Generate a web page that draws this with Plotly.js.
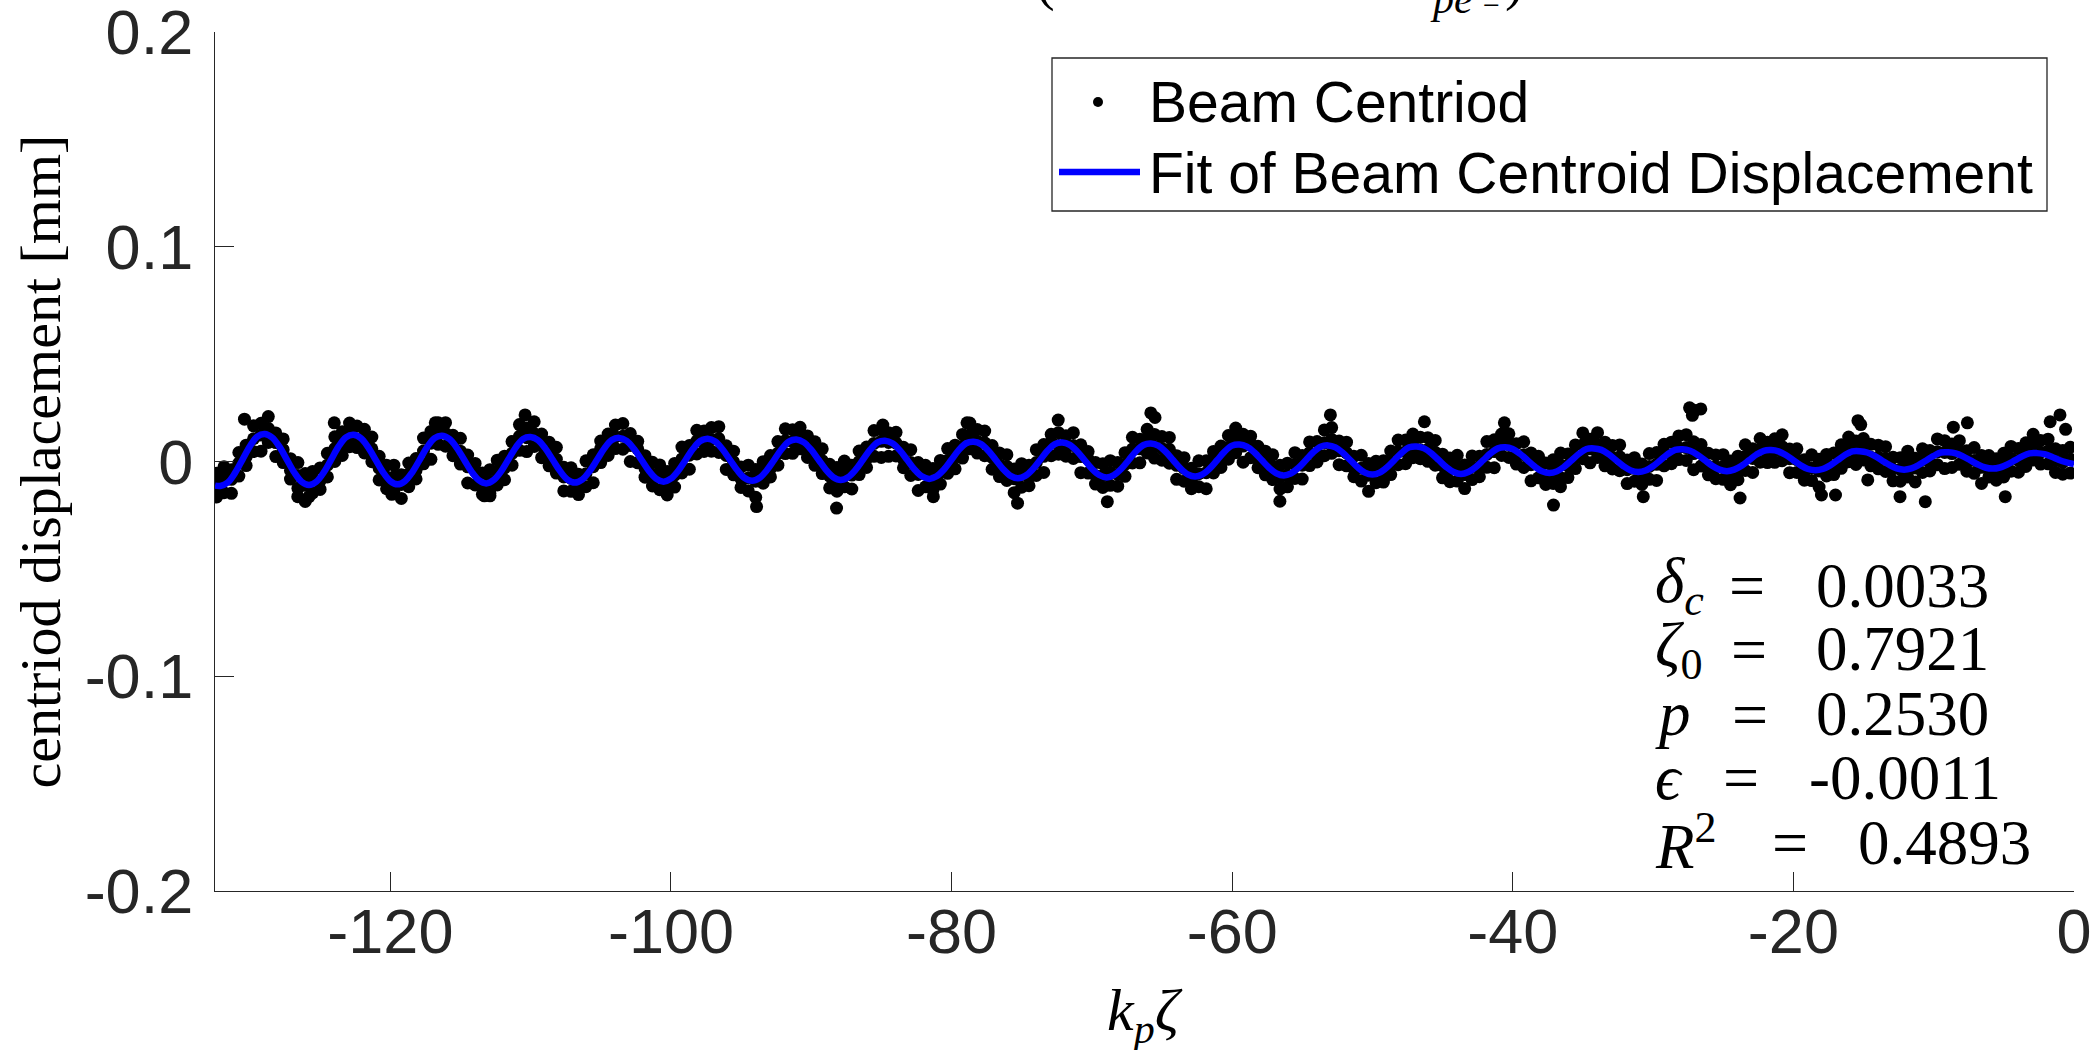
<!DOCTYPE html>
<html>
<head>
<meta charset="utf-8">
<script src="https://cdn.plot.ly/plotly-3.0.1.min.js"></script>
<style>
html,body{margin:0;padding:0;background:#ffffff;}
#chart{width:2095px;height:1050px;}
</style>
</head>
<body>
<div id="chart"></div>
<script>
// ---------- tick labels ----------
const xTickVals = [-120, -100, -80, -60, -40, -20, 0];
const xTickText = ['-120', '-100', '-80', '-60', '-40', '-20', '0'];
const yTickVals = [-0.2, -0.1, 0, 0.1, 0.2];
const yTickText = ['-0.2', '-0.1', '0', '0.1', '0.2'];

// ---------- fitted curve ----------
const fitX = [
-132.50,-132.12,-131.59,-131.07,-130.54,-130.01,-129.49,
-128.96,-128.43,-127.91,-127.38,-126.85,-126.33,-125.80,-125.28,-124.75,-124.22,-123.70,-123.17,
-122.64,-122.11,-121.59,-121.06,-120.53,-120.01,-119.48,-118.96,-118.43,-117.90,-117.38,-116.85,
-116.33,-115.80,-115.28,-114.75,-114.22,-113.70,-113.17,-112.65,-112.12,-111.59,-111.07,-110.54,
-110.01,-109.48,-108.96,-108.43,-107.90,-107.38,-106.85,-106.33,-105.80,-105.27,-104.75,-104.22,
-103.69,-103.16,-102.64,-102.11,-101.58,-101.06,-100.53,-100.01,-99.48,-98.95,-98.43,-97.90,
-97.38,-96.85,-96.33,-95.80,-95.27,-94.75,-94.22,-93.70,-93.17,-92.64,-92.12,-91.59,
-91.06,-90.53,-90.01,-89.48,-88.95,-88.43,-87.90,-87.38,-86.85,-86.32,-85.80,-85.27,
-84.75,-84.22,-83.70,-83.17,-82.64,-82.12,-81.59,-81.07,-80.54,-80.01,-79.49,-78.96,
-78.43,-77.90,-77.38,-76.85,-76.32,-75.80,-75.27,-74.75,-74.22,-73.69,-73.17,-72.64,
-72.11,-71.58,-71.06,-70.53,-70.00,-69.48,-68.95,-68.43,-67.90,-67.37,-66.85,-66.32,
-65.80,-65.27,-64.75,-64.22,-63.69,-63.17,-62.64,-62.12,-61.59,-61.06,-60.54,-60.01,
-59.48,-58.95,-58.43,-57.90,-57.37,-56.85,-56.32,-55.80,-55.27,-54.74,-54.22,-53.69,
-53.17,-52.64,-52.12,-51.59,-51.06,-50.54,-50.01,-49.49,-48.96,-48.43,-47.91,-47.38,
-46.85,-46.32,-45.80,-45.27,-44.74,-44.22,-43.69,-43.17,-42.64,-42.11,-41.59,-41.06,
-40.54,-40.01,-39.49,-38.96,-38.43,-37.91,-37.38,-36.86,-36.33,-35.80,-35.28,-34.75,
-34.22,-33.69,-33.17,-32.64,-32.11,-31.59,-31.06,-30.54,-30.01,-29.48,-28.96,-28.43,
-27.90,-27.37,-26.85,-26.32,-25.79,-25.27,-24.74,-24.22,-23.69,-23.16,-22.64,-22.11,
-21.59,-21.06,-20.54,-20.01,-19.48,-18.96,-18.43,-17.91,-17.38,-16.85,-16.33,-15.80,
-15.27,-14.74,-14.22,-13.69,-13.16,-12.64,-12.11,-11.59,-11.06,-10.53,-10.01,-9.48,
-8.96,-8.43,-7.91,-7.38,-6.85,-6.33,-5.80,-5.28,-4.75,-4.22,-3.70,-3.17,
-2.64,-2.11,-1.59,-1.06,-0.53,0
];
const fitY = [
-.0112,-.0114,-.0098,-.0053,.0009,.0071,.0116,
.0128,.0112,.0069,.0009,-.0051,-.0094,-.0110,-.0094,-.0051,.0009,.0069,.0112,
.0124,.0109,.0067,.0009,-.0049,-.0091,-.0106,-.0091,-.0049,.0009,.0067,.0109,
.0120,.0105,.0065,.0009,-.0047,-.0087,-.0102,-.0087,-.0047,.0009,.0065,.0105,
.0114,.0100,.0061,.0008,-.0045,-.0084,-.0098,-.0084,-.0045,.0008,.0061,.0100,
.0110,.0096,.0059,.0008,-.0043,-.0080,-.0094,-.0080,-.0043,.0008,.0059,.0096,
.0106,.0093,.0057,.0008,-.0041,-.0077,-.0090,-.0077,-.0041,.0008,.0057,.0093,
.0102,.0089,.0055,.0008,-.0039,-.0073,-.0086,-.0073,-.0039,.0008,.0055,.0089,
.0097,.0085,.0053,.0008,-.0037,-.0069,-.0081,-.0069,-.0037,.0008,.0053,.0085,
.0092,.0081,.0050,.0007,-.0036,-.0067,-.0078,-.0067,-.0036,.0007,.0050,.0081,
.0088,.0077,.0048,.0007,-.0034,-.0063,-.0074,-.0063,-.0034,.0007,.0048,.0077,
.0084,.0074,.0046,.0007,-.0032,-.0060,-.0070,-.0060,-.0032,.0007,.0046,.0074,
.0079,.0069,.0043,.0007,-.0029,-.0055,-.0065,-.0055,-.0029,.0007,.0043,.0069,
.0075,.0066,.0041,.0007,-.0027,-.0052,-.0061,-.0052,-.0027,.0007,.0041,.0066,
.0070,.0061,.0038,.0006,-.0026,-.0049,-.0058,-.0049,-.0026,.0006,.0038,.0061,
.0066,.0058,.0036,.0006,-.0024,-.0046,-.0054,-.0046,-.0024,.0006,.0036,.0058,
.0061,.0054,.0034,.0006,-.0022,-.0042,-.0049,-.0042,-.0022,.0006,.0034,.0054,
.0057,.0050,.0032,.0006,-.0020,-.0038,-.0045,-.0038,-.0020,.0006,.0032,.0050,
.0053,.0047,.0030,.0006,-.0018,-.0035,-.0041,-.0035,-.0018,.0006,.0030,.0047,
.0048,.0042,.0026,.0005,-.0016,-.0032,-.0038,-.0032,-.0016,.0005,.0026,.0042,
.0043,.0038,.0024,.0005,-.0014,-.0028,-.0033,-.0028,-.0014,.0005,.0024,.0038,
.0039,.0034,.0022,.0007,-.0004,-.0012
];

// ---------- beam centroid samples ----------
const dotColX = [
-132.38,-131.86,-131.33,-130.80,-130.28,-129.75,-129.22,
-128.70,-128.17,-127.64,-127.12,-126.59,-126.07,-125.54,-125.01,-124.49,-123.96,-123.43,-122.91,
-122.38,-121.85,-121.32,-120.80,-120.27,-119.75,-119.22,-118.69,-118.17,-117.64,-117.11,-116.59,
-116.07,-115.54,-115.01,-114.49,-113.96,-113.44,-112.91,-112.38,-111.86,-111.33,-110.80,-110.28,
-109.75,-109.22,-108.69,-108.17,-107.64,-107.12,-106.59,-106.06,-105.54,-105.01,-104.48,-103.96,
-103.43,-102.90,-102.37,-101.85,-101.32,-100.80,-100.27,-99.74,-99.22,-98.69,-98.16,-97.64,
-97.12,-96.59,-96.06,-95.54,-95.01,-94.49,-93.96,-93.43,-92.91,-92.38,-91.85,-91.33,
-90.80,-90.27,-89.74,-89.22,-88.69,-88.17,-87.64,-87.11,-86.59,-86.06,-85.53,-85.01,
-84.49,-83.96,-83.43,-82.91,-82.38,-81.86,-81.33,-80.80,-80.28,-79.75,-79.22,-78.70,
-78.17,-77.64,-77.11,-76.59,-76.06,-75.54,-75.01,-74.48,-73.96,-73.43,-72.90,-72.38,
-71.85,-71.32,-70.79,-70.27,-69.74,-69.22,-68.69,-68.16,-67.64,-67.11,-66.58,-66.06,
-65.54,-65.01,-64.48,-63.96,-63.43,-62.91,-62.38,-61.85,-61.33,-60.80,-60.27,-59.75,
-59.22,-58.69,-58.16,-57.64,-57.11,-56.59,-56.06,-55.53,-55.01,-54.48,-53.95,-53.43,
-52.91,-52.38,-51.85,-51.33,-50.80,-50.28,-49.75,-49.22,-48.70,-48.17,-47.64,-47.12,
-46.59,-46.06,-45.53,-45.01,-44.48,-43.96,-43.43,-42.90,-42.38,-41.85,-41.32,-40.80,
-40.28,-39.75,-39.22,-38.70,-38.17,-37.65,-37.12,-36.59,-36.07,-35.54,-35.01,-34.49,
-33.96,-33.43,-32.90,-32.38,-31.85,-31.33,-30.80,-30.27,-29.75,-29.22,-28.69,-28.17,
-27.64,-27.11,-26.58,-26.06,-25.53,-25.01,-24.48,-23.95,-23.43,-22.90,-22.37,-21.85,
-21.33,-20.80,-20.27,-19.75,-19.22,-18.70,-18.17,-17.64,-17.12,-16.59,-16.06,-15.54,
-15.01,-14.48,-13.95,-13.43,-12.90,-12.38,-11.85,-11.32,-10.80,-10.27,-9.74,-9.22,
-8.70,-8.17,-7.64,-7.12,-6.59,-6.07,-5.54,-5.01,-4.49,-3.96,-3.43,-2.91,
-2.38,-1.85,-1.32,-0.80,-0.27
];
const dotColY = [
[-.0055,-.0110,-.0165],[-.0025,-.0080,-.0145],[-.0038,-.0083,-.0148],[.0042,-.0008,-.0068],[.0076,.0021,-.0019],[.0166,.0106,.0046],[.0178,.0123,.0048],
[.0209,.0154,.0089],[.0133,.0088,.0023],[.0105,.0055,-.0005],[.0013,-.0042,-.0082],[-.0005,-.0065,-.0125],[-.0056,-.0111,-.0186],[-.0046,-.0081,-.0146],[-.0030,-.0090,-.0130],[.0038,-.0017,-.0072],[.0115,.0060,0],[.0138,.0083,.0028],[.0179,.0124,.0069],
[.0165,.0105,.0065],[.0150,.0095,.0040],[.0114,.0059,-.0001],[.0024,-.0031,-.0086],[-.0017,-.0072,-.0127],[-.0017,-.0072,-.0137],[-.0062,-.0107,-.0172],[-.0007,-.0057,-.0117],[.0014,-.0041,-.0081],[.0109,.0049,-.0011],[.0140,.0085,.0010],[.0180,.0145,.0080],
[.0181,.0131,.0071],[.0122,.0067,.0027],[.0108,.0048,-.0012],[.0030,-.0025,-.0100],[-.0009,-.0044,-.0109],[-.0053,-.0113,-.0153],[-.0038,-.0093,-.0148],[.0006,-.0049,-.0109],[.0025,-.0030,-.0085],[.0093,.0038,-.0017],[.0172,.0117,.0052],[.0156,.0111,.0046],
[.0185,.0130,.0070],[.0128,.0073,.0018],[.0090,.0035,-.0020],[.0066,.0011,-.0054],[-.0027,-.0072,-.0137],[-.0029,-.0079,-.0139],[-.0059,-.0114,-.0154],[.0003,-.0057,-.0117],[.0031,-.0024,-.0099],[.0095,.0060,-.0005],[.0128,.0068,.0028],[.0170,.0115,.0060],
[.0177,.0117,.0057],[.0130,.0075,0],[.0094,.0059,-.0006],[.0027,-.0033,-.0073],[-.0004,-.0059,-.0114],[-.0016,-.0071,-.0131],[-.0046,-.0101,-.0156],[-.0009,-.0064,-.0119],[.0067,.0012,-.0053],[.0074,.0029,-.0036],[.0145,.0095,.0035],[.0142,.0087,.0047],
[.0158,.0103,.0048],[.0162,.0107,.0042],[.0073,.0028,-.0037],[.0048,-.0002,-.0062],[-.0026,-.0081,-.0121],[-.0017,-.0077,-.0137],[-.0037,-.0092,-.0167],[-.0001,-.0036,-.0101],[.0028,-.0032,-.0072],[.0093,.0038,-.0017],[.0152,.0097,.0037],[.0148,.0093,.0038],
[.0159,.0124,.0059],[.0119,.0059,.0019],[.0092,.0037,-.0018],[.0059,.0004,-.0056],[-.0013,-.0068,-.0123],[-.0028,-.0083,-.0138],[.0002,-.0053,-.0118],[-.0018,-.0063,-.0128],[.0049,-.0001,-.0061],[.0067,.0012,-.0028],[.0144,.0084,.0024],[.0149,.0094,.0019],
[.0134,.0089,.0024],[.0136,.0086,.0026],[.0066,.0011,-.0029],[.0055,-.0005,-.0065],[-.0005,-.0060,-.0135],[-.0018,-.0053,-.0118],[-.0033,-.0093,-.0133],[.0005,-.0050,-.0105],[.0060,.0005,-.0055],[.0076,.0021,-.0034],[.0126,.0071,.0016],[.0179,.0124,.0059],
[.0149,.0094,.0039],[.0142,.0087,.0027],[.0074,.0019,-.0036],[.0040,-.0015,-.0070],[.0032,-.0023,-.0088],[-.0035,-.0080,-.0145],[-.0010,-.0060,-.0120],[-.0018,-.0073,-.0113],[.0055,-.0005,-.0065],[.0079,.0024,-.0051],[.0127,.0092,.0027],[.0134,.0074,.0034],
[.0120,.0065,.0025],[.0134,.0074,.0014],[.0078,.0023,-.0052],[.0046,.0011,-.0054],[-.0005,-.0065,-.0105],[-.0011,-.0066,-.0121],[.0004,-.0051,-.0111],[-.0005,-.0060,-.0115],[.0041,-.0014,-.0069],[.0113,.0058,-.0007],[.0104,.0059,-.0006],[.0150,.0100,.0040],
[.0126,.0071,.0016],[.0116,.0061,.0006],[.0112,.0057,-.0008],[.0027,-.0018,-.0083],[.0018,-.0032,-.0092],[-.0032,-.0087,-.0127],[.0003,-.0057,-.0117],[.0003,-.0052,-.0127],[.0047,.0012,-.0053],[.0072,.0012,-.0028],[.0121,.0066,.0011],[.0156,.0101,.0041],
[.0127,.0072,-.0003],[.0118,.0083,.0018],[.0071,.0011,-.0029],[.0048,-.0007,-.0062],[.0031,-.0024,-.0084],[-.0018,-.0073,-.0128],[-.0008,-.0063,-.0118],[.0041,-.0014,-.0079],[.0028,-.0017,-.0082],[.0091,.0041,-.0019],[.0093,.0038,-.0002],[.0147,.0087,.0027],
[.0158,.0103,.0038],[.0095,.0050,-.0015],[.0090,.0040,-.0020],[.0024,-.0031,-.0071],[.0029,-.0031,-.0091],[-.0009,-.0064,-.0139],[.0001,-.0034,-.0099],[.0004,-.0056,-.0096],[.0049,-.0006,-.0061],[.0100,.0045,-.0015],[.0100,.0045,-.0010],[.0128,.0073,.0018],
[.0113,.0053,.0013],[.0111,.0056,.0001],[.0098,.0043,-.0017],[.0034,-.0021,-.0076],[.0016,-.0039,-.0094],[.0029,-.0026,-.0091],[-.0016,-.0061,-.0126],[.0026,-.0024,-.0084],[.0024,-.0031,-.0071],[.0093,.0033,-.0027],[.0101,.0046,-.0029],[.0128,.0093,.0028],
[.0129,.0079,.0019],[.0083,.0028,-.0012],[.0092,.0032,-.0028],[.0040,-.0015,-.0090],[.0024,-.0011,-.0076],[-.0007,-.0067,-.0107],[.0008,-.0047,-.0102],[.0039,-.0016,-.0076],[.0035,-.0020,-.0075],[.0077,.0022,-.0033],[.0133,.0078,.0013],[.0104,.0059,-.0006],
[.0134,.0079,.0019],[.0090,.0035,-.0020],[.0075,.0020,-.0035],[.0077,.0022,-.0043],[.0007,-.0038,-.0103],[.0018,-.0032,-.0092],[-.0012,-.0067,-.0107],[.0037,-.0023,-.0083],[.0042,-.0013,-.0088],[.0080,.0045,-.0020],[.0090,.0030,-.0010],[.0119,.0064,.0009],
[.0125,.0065,.0005],[.0092,.0037,-.0038],[.0079,.0044,-.0021],[.0038,-.0022,-.0062],[.0030,-.0025,-.0080],[.0032,-.0023,-.0083],[.0002,-.0053,-.0108],[.0025,-.0030,-.0085],[.0078,.0023,-.0042],[.0059,.0014,-.0051],[.0107,.0057,-.0003],[.0090,.0035,-.0005],
[.0106,.0051,-.0004],[.0124,.0069,.0004],[.0058,.0013,-.0052],[.0059,.0009,-.0051],[.0008,-.0047,-.0087],[.0031,-.0029,-.0089],[.0011,-.0044,-.0119],[.0033,-.0002,-.0067],[.0039,-.0021,-.0061],[.0078,.0023,-.0032],[.0114,.0059,-.0001],[.0096,.0041,-.0014],
[.0107,.0072,.0007],[.0080,.0020,-.0020],[.0076,.0021,-.0034],[.0069,.0014,-.0046],[.0020,-.0035,-.0090],[.0018,-.0037,-.0092],[.0048,-.0007,-.0072],[.0015,-.0030,-.0095],[.0059,.0009,-.0051],[.0051,-.0004,-.0044],[.0105,.0045,-.0015],[.0097,.0042,-.0033],
[.0082,.0037,-.0028],[.0097,.0047,-.0013],[.0050,-.0005,-.0045],[.0065,.0005,-.0055],[.0028,-.0027,-.0102],[.0028,-.0007,-.0072],[.0013,-.0047,-.0087],[.0038,-.0017,-.0072],[.0070,.0015,-.0045],[.0060,.0005,-.0050],[.0087,.0032,-.0023],[.0127,.0072,.0007],
[.0098,.0043,-.0012],[.0104,.0049,-.0011],[.0059,.0004,-.0051],[.0051,-.0004,-.0059],[.0066,.0011,-.0054]
];
const outlierX = [-130.4,-124.0,-126.6,-125.8,-119.9,-116.8,-113.3,-112.9,-110.4,-93.9,-88.2,-84.9,-81.3,-78.9,-75.3,-72.4,-68.9,-65.8,-65.5,-56.6,-53.0,-46.3,-40.6,-37.1,-36.6,-30.7,-27.4,-27.0,-26.6,-27.2,-23.8,-18.0,-17.0,-15.4,-15.2,-14.7,-12.4,-10.6,-8.6,-7.6,-4.9,-1.7,-1.0,-0.6];
const outlierY = [.0197,.0180,-.0164,-.0164,-.0153,.0180,-.0160,-.0160,.0217,-.0210,-.0217,.0170,-.0164,.0180,-.0194,.0193,-.0187,.0226,.0205,-.0185,.0217,.0185,.0180,-.0203,-.0117,-.0164,.0250,.0238,.0245,.0215,-.0170,-.0156,-.0156,.0190,.0172,-.0086,-.0164,-.0187,.0160,.0180,-.0164,.0185,.0217,.0150];

// ---------- text ----------
const seriesNames = ['Beam Centriod', 'Fit of Beam Centroid Displacement'];
const statNames = ['<i>δ</i><sub><i>c</i></sub>', '<i>ζ</i><sub>0</sub>', '<i>p</i>', '<i>ϵ</i>', '<i>R</i><sup>2</sup>'];
const statValues = ['0.0033', '0.7921', '0.2530', '-0.0011', '0.4893'];
const xTitle = '<i>k</i><sub><i>p</i></sub><i>ζ</i>';
const yTitle = 'centriod displacement [mm]';

// ---------- build marker series ----------
const dotX = [], dotY = [];
dotColX.forEach((x, i) => { dotColY[i].forEach(y => { dotX.push(x); dotY.push(y); }); });
outlierX.forEach((x, i) => { dotX.push(x); dotY.push(outlierY[i]); });

// ---------- geometry helpers (pixel -> paper) ----------
const L = 215, R = 2074, T = 32, B = 891;
const px = v => (v - L) / (R - L);
const py = v => (B - v) / (B - T);

const SANS = 'Liberation Sans, Arial, Helvetica, sans-serif';
const SERIF = 'Liberation Serif, Times New Roman, DejaVu Serif, serif';
const AX = '#262626';

const traces = [
  {x: dotX, y: dotY, type: 'scatter', mode: 'markers', name: seriesNames[0],
   marker: {color: '#000000', size: 13, line: {width: 0}}, showlegend: false, hoverinfo: 'skip'},
  {x: fitX, y: fitY, type: 'scatter', mode: 'lines', name: seriesNames[1],
   line: {color: '#0000ff', width: 6.5, shape: 'spline', smoothing: 1}, showlegend: false, hoverinfo: 'skip'}
];

const statRowsY = [586, 649, 714, 777.5, 842.5];
const statEqX = [1747, 1749, 1750, 1741, 1790];
const statValX = [1814, 1814, 1814, 1807, 1856];

const annotations = [];
statNames.forEach((s, i) => {
  annotations.push({xref: 'paper', yref: 'paper', x: px(1653), y: py(statRowsY[i]), xanchor: 'left', yanchor: 'middle',
    text: s, showarrow: false, font: {family: SERIF, size: 63, color: '#000'}});
  annotations.push({xref: 'paper', yref: 'paper', x: px(statEqX[i]), y: py(statRowsY[i]), xanchor: 'center', yanchor: 'middle',
    text: '=', showarrow: false, font: {family: SERIF, size: 64, color: '#000'}});
  annotations.push({xref: 'paper', yref: 'paper', x: px(statValX[i]), y: py(statRowsY[i]), xanchor: 'left', yanchor: 'middle',
    text: statValues[i], showarrow: false, font: {family: SERIF, size: 63, color: '#000'}});
});
// legend labels
annotations.push({xref: 'paper', yref: 'paper', x: px(1147), y: py(102), xanchor: 'left', yanchor: 'middle',
  text: seriesNames[0], showarrow: false, font: {family: SANS, size: 57, color: '#000'}});
annotations.push({xref: 'paper', yref: 'paper', x: px(1147), y: py(173), xanchor: 'left', yanchor: 'middle',
  text: seriesNames[1], showarrow: false, font: {family: SANS, size: 57, color: '#000'}});
// axis titles
annotations.push({xref: 'paper', yref: 'paper', x: 0.5, y: py(1014), xanchor: 'center', yanchor: 'middle',
  text: xTitle, showarrow: false, font: {family: SERIF, size: 60, color: '#000'}});
annotations.push({xref: 'paper', yref: 'paper', x: px(40), y: 0.5, xanchor: 'center', yanchor: 'middle', textangle: -90,
  text: yTitle, showarrow: false, font: {family: SERIF, size: 58, color: '#000'}});
// clipped title fragments at the top edge
annotations.push({xref: 'paper', yref: 'paper', x: px(1045), y: py(14), xanchor: 'center', yanchor: 'bottom',
  text: '(', showarrow: false, font: {family: SERIF, size: 56, color: '#000'}});
annotations.push({xref: 'paper', yref: 'paper', x: px(1428), y: py(24), xanchor: 'left', yanchor: 'bottom',
  text: '<i>pe</i>', showarrow: false, font: {family: SERIF, size: 42, color: '#000'}});
annotations.push({xref: 'paper', yref: 'paper', x: px(1491), y: py(5), xanchor: 'center', yanchor: 'middle',
  text: '−', showarrow: false, font: {family: SERIF, size: 30, color: '#000'}});
annotations.push({xref: 'paper', yref: 'paper', x: px(1514), y: py(14), xanchor: 'center', yanchor: 'bottom',
  text: ')', showarrow: false, font: {family: SERIF, size: 56, color: '#000'}});

const shapes = [
  {type: 'rect', xref: 'paper', yref: 'paper', x0: px(1052), x1: px(2047), y0: py(211), y1: py(58),
   line: {color: AX, width: 1.3}, fillcolor: '#ffffff', layer: 'above'},
  {type: 'line', xref: 'paper', yref: 'paper', x0: px(1059), x1: px(1140), y0: py(172), y1: py(172),
   line: {color: '#0000ff', width: 6.5}, layer: 'above'},
  {type: 'circle', xref: 'paper', yref: 'paper', x0: px(1093), x1: px(1103), y0: py(107), y1: py(97),
   line: {width: 0}, fillcolor: '#000000', layer: 'above'}
];

const layout = {
  width: 2095, height: 1050,
  margin: {l: L, r: 2095 - R, t: T, b: 1050 - B, pad: 0},
  paper_bgcolor: '#ffffff', plot_bgcolor: '#ffffff',
  showlegend: false,
  xaxis: {
    range: [-132.5, 0], tickvals: xTickVals, ticktext: xTickText,
    ticks: 'inside', ticklen: 19, tickwidth: 1, tickcolor: AX,
    showline: true, linecolor: AX, linewidth: 1.2, mirror: false,
    showgrid: false, zeroline: false, ticklabelstandoff: -15, ticklabeloverflow: 'allow',
    tickfont: {family: SANS, size: 63, color: AX}
  },
  yaxis: {
    range: [-0.2, 0.2], tickvals: yTickVals, ticktext: yTickText,
    ticks: 'inside', ticklen: 19, tickwidth: 1, tickcolor: AX,
    showline: true, linecolor: AX, linewidth: 1.2, mirror: false,
    showgrid: false, zeroline: false, ticklabelstandoff: 8, ticklabeloverflow: 'allow',
    tickfont: {family: SANS, size: 63, color: AX}
  },
  annotations: annotations,
  shapes: shapes
};

Plotly.newPlot('chart', traces, layout, {staticPlot: true, displayModeBar: false});
</script>
</body>
</html>
